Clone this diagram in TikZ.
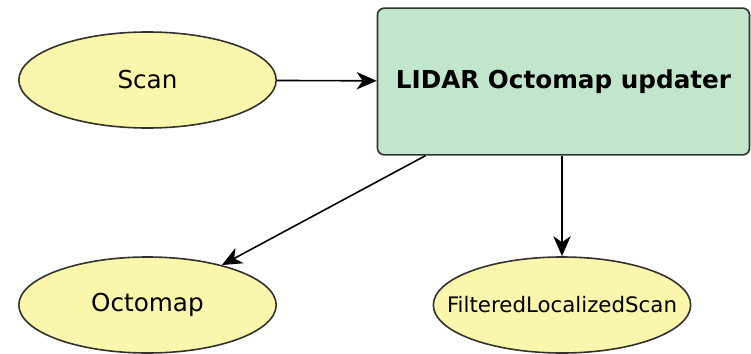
\documentclass[tikz,border=0pt]{standalone}
\usepackage{fontspec}
\setmainfont{DejaVu Sans}
\usetikzlibrary{shapes.geometric,arrows.meta}
\definecolor{topicfill}{RGB}{250,246,172}
\definecolor{nodefill}{RGB}{194,230,204}
\definecolor{edgegray}{RGB}{50,50,45}
\begin{document}
\begin{tikzpicture}[x=0.75pt,y=-0.75pt,
  topic/.style={ellipse,draw=edgegray,line width=1.2pt,fill=topicfill,inner sep=0pt,
    minimum width=193pt,minimum height=72pt,font=\fontsize{18.5}{22}\selectfont},
  proc/.style={rectangle,rounded corners=5pt,draw=edgegray,line width=1.2pt,fill=nodefill,
    minimum width=279pt,minimum height=110pt,font=\bfseries\fontsize{18.5}{22}\selectfont},
  link/.style={line width=1.2pt,-{Stealth[length=15pt,width=13pt,inset=4.5pt]}}]
\useasboundingbox (0,0) rectangle (751,354);
\node[topic] (scan) at (147.5,80) {Scan};
\node[proc] (upd) at (563.5,81.5) {LIDAR Octomap updater};
\node[topic] (octo) at (147.5,305) {Octomap};
\node[topic,font=\fontsize{16}{19}\selectfont] (filt) at (562,305) {\makebox[0pt][c]{FilteredLocalizedScan}};
\draw[link] (scan) -- (upd);
\draw[link] (upd) -- (octo);
\draw[link] (upd.south -| filt.north) -- (filt);
\end{tikzpicture}
\end{document}
